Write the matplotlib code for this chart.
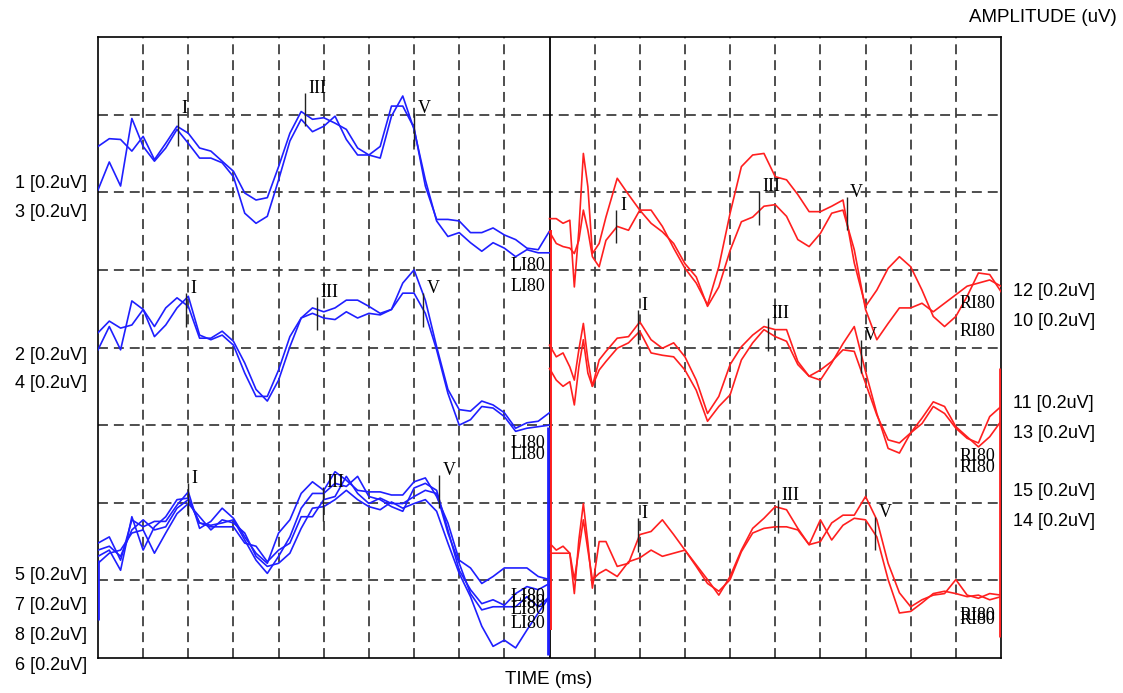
import matplotlib
matplotlib.use('Agg')
import matplotlib.pyplot as plt
import numpy as np

# ---------------- data ----------------
# sample times (ms) of each half of the sweep
t_left = np.arange(0, 10.001, 0.25)
t_right = np.array([0, 0.15, 0.3, 0.45, 0.55, 0.65, 0.75, 0.85, 0.95, 1.1, 1.25]
                   + list(np.arange(1.5, 10.001, 0.25)))

# amplitudes in plot units (one grid division = 10 units), left ear (blue)
b1 = [65.9, 66.9, 66.8, 65.3, 67.2, 64.2, 66.3, 68.5, 67.6, 65.7, 65.3, 64.0, 62.7, 59.9, 59.0, 59.3, 63.3, 67.6, 70.4, 69.4,
      69.6, 68.9, 68.1, 65.7, 64.8, 65.9, 71.1, 71.1, 68.3, 60.8, 56.5, 56.5, 56.3, 54.8, 54.8, 55.4, 54.5, 53.9, 52.8, 52.6, 55.0]
b3 = [60.3, 63.9, 60.8, 69.5, 65.9, 64.0, 65.7, 68.1, 66.3, 64.4, 64.4, 63.8, 62.0, 57.3, 56.0, 56.9, 61.6, 66.6, 69.4, 67.8,
      68.5, 69.8, 66.8, 64.8, 64.8, 64.4, 69.8, 72.4, 68.1, 61.6, 56.3, 54.3, 54.8, 53.5, 52.4, 53.5, 52.8, 51.7, 52.6, 52.2, 52.2]
b2 = [41.9, 43.4, 42.5, 42.9, 44.9, 42.7, 45.1, 46.4, 45.3, 41.2, 41.2, 42.1, 40.8, 38.0, 34.6, 33.1, 35.8, 40.1, 43.8, 45.1,
      44.6, 45.1, 46.1, 46.1, 45.3, 44.4, 44.9, 48.3, 50.0, 46.1, 40.1, 34.6, 32.0, 31.8, 33.1, 32.6, 31.6, 29.6, 30.3, 30.5, 31.6]
b4 = [39.7, 42.7, 39.7, 46.0, 44.9, 41.4, 42.9, 45.1, 46.6, 41.6, 41.0, 41.6, 40.3, 36.7, 33.7, 33.7, 37.1, 41.4, 43.8, 44.4,
      43.8, 43.6, 44.6, 43.8, 44.4, 44.2, 44.9, 47.0, 47.0, 44.4, 39.7, 34.1, 30.0, 30.7, 32.4, 32.2, 31.1, 29.2, 29.6, 29.8, 30.0]
b5 = [14.8, 15.6, 12.6, 17.8, 16.9, 17.6, 17.6, 19.7, 21.4, 16.7, 17.6, 19.3, 18.0, 15.6, 13.5, 12.2, 16.1, 17.8, 21.2, 22.7,
      21.6, 24.0, 22.9, 21.6, 21.4, 21.4, 21.0, 21.0, 22.7, 23.2, 20.8, 17.4, 12.6, 11.6, 9.6, 10.5, 11.6, 11.6, 11.6, 10.5, 10.1]
b7 = [13.1, 13.9, 11.3, 18.2, 13.9, 16.9, 18.2, 20.4, 20.6, 17.4, 17.1, 17.4, 17.8, 15.2, 12.6, 10.9, 13.1, 15.6, 19.3, 21.2,
      21.2, 22.5, 22.1, 23.4, 20.8, 20.4, 19.5, 18.9, 21.9, 22.5, 21.6, 16.5, 11.3, 8.8, 7.0, 7.5, 6.8, 8.3, 9.2, 8.8, 9.6]
b8 = [13.9, 14.4, 13.1, 16.5, 17.8, 16.5, 16.9, 19.3, 20.4, 17.4, 16.9, 16.9, 16.9, 14.8, 14.4, 12.4, 13.9, 14.8, 18.2, 18.2,
      20.4, 20.8, 23.4, 21.2, 19.9, 20.6, 19.9, 19.9, 20.8, 21.6, 21.2, 16.1, 12.2, 8.3, 6.2, 6.6, 6.6, 6.6, 7.9, 6.6, 7.9]
b6 = [12.2, 13.5, 13.9, 16.1, 16.5, 13.5, 16.1, 18.6, 19.9, 18.2, 16.5, 17.8, 17.4, 16.1, 13.1, 11.8, 12.2, 13.5, 16.7, 19.3,
      19.5, 20.4, 21.6, 20.4, 19.5, 19.1, 20.1, 19.3, 19.9, 20.4, 18.9, 14.8, 10.9, 7.9, 4.1, 1.5, 2.3, 1.3, 3.6, 5.8, 7.9]

# right ear (red)
r12 = [56.6, 56.6, 56.0, 56.4, 47.8, 55.1, 65.0, 60.7, 52.1, 53.4, 56.8,
       61.8, 59.7, 57.7, 57.7, 55.6, 52.8, 50.2, 48.3, 45.5, 50.4, 57.3, 63.3, 64.8, 65.0,
       62.0, 61.6, 59.7, 57.5, 57.5, 58.2, 59.0, 50.9, 45.3, 47.4, 50.2, 51.7, 50.4, 47.4, 44.0, 42.7, 44.0, 46.6, 49.6, 49.4, 47.2]
r10 = [54.9, 53.4, 53.0, 52.8, 52.1, 53.8, 57.7, 55.1, 51.7, 50.4, 53.8,
       55.6, 55.1, 57.7, 56.0, 54.9, 53.4, 50.8, 49.1, 45.3, 47.8, 52.5, 56.2, 56.8, 58.2,
       58.4, 56.9, 53.9, 53.0, 54.7, 57.3, 57.7, 52.6, 44.9, 41.0, 43.1, 45.1, 45.1, 45.7, 44.6, 45.7, 46.8, 47.9, 48.3, 48.7, 47.9]
r11 = [40.3, 38.8, 39.3, 37.5, 35.8, 39.7, 43.1, 38.4, 35.0, 38.4, 39.5,
       41.2, 41.4, 43.3, 41.0, 39.9, 40.6, 38.8, 35.8, 31.5, 33.7, 37.8, 40.1, 41.6, 42.7,
       42.3, 42.3, 38.2, 36.3, 35.8, 38.0, 40.5, 42.7, 36.9, 31.5, 27.0, 26.4, 29.0, 30.9, 33.0, 32.4, 29.8, 28.5, 27.2, 28.5, 30.5]
r13 = [37.3, 35.8, 35.0, 35.6, 32.6, 37.5, 41.0, 36.7, 35.0, 37.1, 38.2,
       39.9, 40.6, 42.1, 39.3, 39.0, 38.8, 37.1, 34.5, 30.5, 32.4, 33.9, 38.4, 40.6, 42.3,
       41.4, 40.8, 37.8, 36.3, 37.1, 38.2, 39.7, 39.5, 35.4, 31.3, 28.1, 27.7, 29.0, 30.2, 32.4, 31.5, 29.6, 28.3, 27.7, 31.1, 32.4]
r15 = [14.8, 13.9, 14.4, 13.5, 8.3, 15.2, 19.9, 14.8, 9.0, 15.0, 15.0,
       11.8, 12.2, 15.9, 16.3, 17.8, 15.9, 13.9, 12.0, 10.1, 8.1, 10.5, 13.9, 16.7, 18.0,
       19.5, 19.1, 16.7, 14.6, 15.0, 17.4, 18.4, 18.4, 20.8, 17.8, 12.2, 8.4, 6.6, 7.5, 8.1, 8.3, 10.1, 8.1, 7.7, 8.3, 8.1]
r14 = [13.5, 13.5, 13.5, 13.5, 10.1, 13.9, 17.8, 13.9, 10.1, 10.9, 11.4,
       10.5, 12.4, 12.9, 13.9, 13.1, 13.5, 13.9, 11.8, 9.6, 8.6, 10.1, 13.7, 16.1, 16.7,
       16.9, 16.9, 16.5, 14.6, 17.8, 15.2, 17.1, 18.0, 17.8, 15.6, 10.1, 5.8, 6.0, 7.1, 8.3, 8.6, 8.3, 7.9, 8.1, 7.5, 7.9]

blue_traces = [b1, b3, b2, b4, b5, b7, b8, b6]
red_traces = [r12, r10, r11, r13, r15, r14]

# stimulus artefacts (vertical jumps) : [time, low, high]
artefacts_blue = [[0.0, 4.9, 12.6], [9.97, 0.4, 29.8]]
artefacts_red = [[10.03, 3.6, 55.2], [19.97, 2.7, 37.4]]

# wave peak markers
mark_labels = ['I', 'III', 'V']
blue_mark_t = [[1.77, 4.58, 7.00], [1.96, 4.85, 7.20], [1.99, 4.98, 7.55]]
blue_mark_top = [[70.2, 72.8, 70.2], [47.0, 46.5, 47.0], [22.6, 22.0, 23.6]]
red_mark_t = [[1.48, 4.63, 6.58], [1.95, 4.83, 6.89], [1.95, 5.05, 7.22]]
red_mark_top = [[57.7, 60.1, 59.4], [44.8, 43.8, 41.0], [18.0, 20.4, 18.2]]

# end labels
li_levels = [50.5, 47.9, 27.6, 26.2, 7.9, 7.1, 6.2, 4.4]
ri_levels = [45.7, 42.0, 25.9, 24.6, 5.5, 4.9]

left_labels = ['1 [0.2uV]', '3 [0.2uV]', '2 [0.2uV]', '4 [0.2uV]',
               '5 [0.2uV]', '7 [0.2uV]', '8 [0.2uV]', '6 [0.2uV]']
left_label_y = [184, 213, 355, 384, 576, 606, 636, 666]
right_labels = ['12 [0.2uV]', '10 [0.2uV]', '11 [0.2uV]', '13 [0.2uV]', '15 [0.2uV]', '14 [0.2uV]']
right_label_y = [292, 322, 404, 434, 492, 521]

# ---------------- drawing ----------------
W, H = 1123, 693
fig = plt.figure(figsize=(W / 100, H / 100), dpi=100)
ax = fig.add_axes([98 / W, (H - 658) / H, (1001 - 98) / W, (658 - 37) / H])
ax.set_xlim(0, 20)
ax.set_ylim(0, 80)

grid_kw = dict(color='#404040', lw=1.3, dashes=(5.5, 3.3), zorder=1)
for gx in range(1, 20):
    if gx == 10:
        continue
    ax.axvline(gx, **grid_kw)
for gy in range(10, 80, 10):
    ax.axhline(gy, **grid_kw)
ax.axvline(10, color='black', lw=1.3, zorder=1)

BLUE = '#1f1fff'
RED = '#ff1f1f'
for tr in blue_traces:
    ax.plot(t_left, tr, color=BLUE, lw=1.2, zorder=3)
for tr in red_traces:
    ax.plot(10 + t_right, tr, color=RED, lw=1.2, zorder=3)
for x, lo, hi in artefacts_blue:
    ax.vlines(x, lo, hi, color=BLUE, lw=2.0, zorder=3)
for x, lo, hi in artefacts_red:
    ax.vlines(x, lo, hi, color=RED, lw=2.0 if x > 15 else 1.4, zorder=3)

serif = ['Liberation Serif', 'DejaVu Serif']
tick_len = 4.3
for times, tops, off in [(blue_mark_t, blue_mark_top, 0), (red_mark_t, red_mark_top, 10)]:
    for tg, yg in zip(times, tops):
        for lab, tm, top in zip(mark_labels, tg, yg):
            ax.vlines(off + tm, top - tick_len, top, color='#222222', lw=1.0, zorder=4)
            ax.text(off + tm + 0.08, top, lab, family=serif, fontsize=13,
                    ha='left', va='baseline', color='black', zorder=5)

for lv in li_levels:
    ax.text(9.9, lv, 'LI80', family=serif, fontsize=13, ha='right', va='center', zorder=5)
for lv in ri_levels:
    ax.text(19.87, lv, 'RI80', family=serif, fontsize=13, ha='right', va='center', zorder=5)

ax.set_xticks([])
ax.set_yticks([])
for sp in ax.spines.values():
    sp.set_linewidth(1.2)
    sp.set_color('black')

sans = ['Liberation Sans', 'DejaVu Sans']
for lab, yp in zip(left_labels, left_label_y):
    fig.text(87 / W, 1 - yp / H, lab, family=sans, fontsize=13, ha='right', va='center')
for lab, yp in zip(right_labels, right_label_y):
    fig.text(1013 / W, 1 - yp / H, lab, family=sans, fontsize=13, ha='left', va='center')
fig.text(1117 / W, 1 - 18 / H, 'AMPLITUDE (uV)', family=sans, fontsize=13.5, ha='right', va='center')
fig.text(549 / W, 1 - 680 / H, 'TIME (ms)', family=sans, fontsize=13.5, ha='center', va='center')

fig.savefig('out.png', dpi=100)
